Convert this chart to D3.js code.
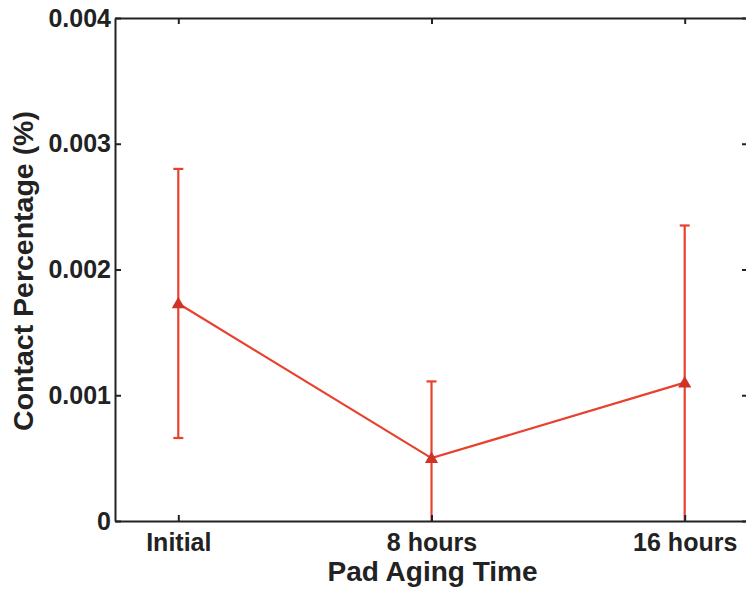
<!DOCTYPE html>
<html>
<head>
<meta charset="utf-8">
<script src="https://cdn.jsdelivr.net/npm/d3@7"></script>
<style>
  html, body { margin: 0; padding: 0; background: #fff; }
  svg { display: block; }
  text { font-family: "Liberation Sans", Arial, sans-serif; font-weight: bold; fill: #222; }
</style>
</head>
<body>
<svg id="chart" width="746" height="590"></svg>
<script>
// Contact percentage of the pad at each aging stage (mean ± error)
const categories = ["Initial", "8 hours", "16 hours"];
const meanValues = [0.00173, 0.00050, 0.00110];
const errorValues = [0.00107, 0.00061, 0.00125];
const yTickValues = [0, 0.001, 0.002, 0.003, 0.004];
const yTickLabels = ["0", "0.001", "0.002", "0.003", "0.004"];

const svg = d3.select("#chart");
const plotLeft = 115, plotRight = 748, plotTop = 18, plotBottom = 521;

const positions = categories.map((_, i) => i + 1);
const x = d3.scaleLinear().domain([0.75, 3.25]).range([plotLeft, plotRight]);
const y = d3.scaleLinear().domain([0, 0.004]).range([plotBottom, plotTop]);

const lineColor = "#e8412e";
const markerColor = "#cf3326";
const axisColor = "#222";

svg.append("defs").append("clipPath").attr("id", "plotClip")
  .append("rect").attr("x", plotLeft).attr("y", plotTop)
  .attr("width", plotRight - plotLeft).attr("height", plotBottom - plotTop);

const data = categories.map((c, i) => ({
  cat: c, pos: positions[i], mean: meanValues[i], err: errorValues[i]
}));

const plot = svg.append("g").attr("clip-path", "url(#plotClip)");

// error bars
const capHalf = 5;
const eb = plot.selectAll("g.eb").data(data).join("g").attr("class", "eb");
eb.append("line")
  .attr("x1", d => x(d.pos)).attr("x2", d => x(d.pos))
  .attr("y1", d => y(d.mean - d.err)).attr("y2", d => y(d.mean + d.err))
  .attr("stroke", lineColor).attr("stroke-width", 2.2);
eb.append("line")
  .attr("x1", d => x(d.pos) - capHalf).attr("x2", d => x(d.pos) + capHalf)
  .attr("y1", d => y(d.mean + d.err)).attr("y2", d => y(d.mean + d.err))
  .attr("stroke", lineColor).attr("stroke-width", 2.2);
eb.append("line")
  .attr("x1", d => x(d.pos) - capHalf).attr("x2", d => x(d.pos) + capHalf)
  .attr("y1", d => y(d.mean - d.err)).attr("y2", d => y(d.mean - d.err))
  .attr("stroke", lineColor).attr("stroke-width", 2.2);

// mean line
plot.append("path")
  .datum(data)
  .attr("fill", "none")
  .attr("stroke", lineColor)
  .attr("stroke-width", 2.2)
  .attr("d", d3.line().x(d => x(d.pos)).y(d => y(d.mean)));

// triangle markers
plot.selectAll("path.mk").data(data).join("path").attr("class", "mk")
  .attr("transform", d => `translate(${x(d.pos)},${y(d.mean) + 1})`)
  .attr("d", d3.symbol().type(d3.symbolTriangle).size(75))
  .attr("fill", markerColor);

// axes box
const tickLen = 6;
const axes = svg.append("g");
axes.append("g").attr("transform", `translate(0,${plotBottom})`)
  .call(d3.axisBottom(x).tickValues(positions).tickFormat((d, i) => categories[i])
    .tickSizeInner(-tickLen).tickSizeOuter(0).tickPadding(12));
axes.append("g").attr("transform", `translate(0,${plotTop})`)
  .call(d3.axisTop(x).tickValues(positions).tickFormat("")
    .tickSizeInner(-tickLen).tickSizeOuter(0));
axes.append("g").attr("transform", `translate(${plotLeft},0)`)
  .call(d3.axisLeft(y).tickValues(yTickValues).tickFormat((d, i) => yTickLabels[i])
    .tickSizeInner(-tickLen).tickSizeOuter(0).tickPadding(4));
axes.append("g").attr("transform", `translate(${plotRight},0)`)
  .call(d3.axisRight(y).tickValues(yTickValues).tickFormat("")
    .tickSizeInner(-tickLen).tickSizeOuter(0));

axes.selectAll(".domain").attr("stroke", axisColor).attr("stroke-width", 2);
axes.selectAll(".tick line").attr("stroke", axisColor).attr("stroke-width", 2);
axes.selectAll(".tick text").style("font-size", "25px").attr("fill", "#222");

// axis titles
svg.append("text")
  .attr("x", (plotLeft + plotRight) / 2 + 1).attr("y", 581)
  .attr("text-anchor", "middle")
  .style("font-size", "28px")
  .text("Pad Aging Time");

svg.append("text")
  .attr("transform", `translate(33,271) rotate(-90)`)
  .attr("text-anchor", "middle")
  .style("font-size", "28.5px")
  .text("Contact Percentage (%)");
</script>
</body>
</html>
